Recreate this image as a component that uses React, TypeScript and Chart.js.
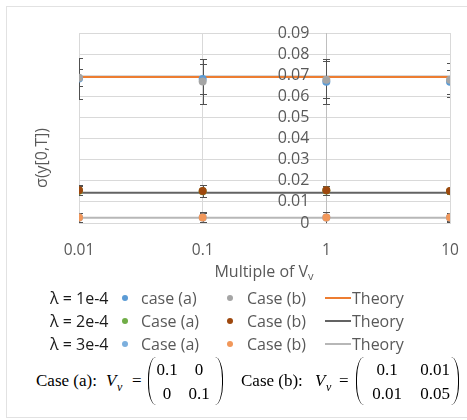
import React, { useEffect, useRef } from 'react';
import { Chart, registerables } from 'chart.js';

Chart.register(...registerables);

const FONT = '"Open Sans", sans-serif';
const SERIF = '"Liberation Serif", "Times New Roman", serif';
const TEXT_GREY = '#595959';

// ---- data ----
const xValues = [0.01, 0.1, 1, 10];
const xTickLabels = ['0.01', '0.1', '1', '10'];
const yTickValues = [0, 0.01, 0.02, 0.03, 0.04, 0.05, 0.06, 0.07, 0.08, 0.09];
const yTickLabels = ['0', '0.01', '0.02', '0.03', '0.04', '0.05', '0.06', '0.07', '0.08', '0.09'];

const lam1CaseA = [0.0685, 0.0682, 0.0669, 0.0669];
const lam1CaseAErr = [0.0098, 0.0072, 0.0107, 0.0058];
const lam1CaseB = [0.0688, 0.0670, 0.0678, 0.0678];
const lam1CaseBErr = [0.0040, 0.0105, 0.0088, 0.0082];
const lam1Theory = 0.0692;

const lam2CaseA = [0.0153, 0.0150, 0.0154, 0.0150];
const lam2CaseAErr = [0.0022, 0.0028, 0.0020, 0.0014];
const lam2CaseB = [0.0155, 0.0151, 0.0155, 0.0151];
const lam2CaseBErr = [0.0024, 0.0030, 0.0020, 0.0015];
const lam2Theory = 0.0143;

const lam3CaseA = [0.0026, 0.0026, 0.0026, 0.0026];
const lam3CaseAErr = [0.0020, 0.0022, 0.0025, 0.0018];
const lam3CaseB = [0.0026, 0.0026, 0.0026, 0.0026];
const lam3CaseBErr = [0.0022, 0.0024, 0.0027, 0.0020];
const lam3Theory = 0.0025;

const lambdaLabels = ['λ = 1e-4', 'λ = 2e-4', 'λ = 3e-4'];
const caseALabels = ['case (a)', 'Case (a)', 'Case (a)'];
const caseBLabels = ['Case (b)', 'Case (b)', 'Case (b)'];
const theoryLabel = 'Theory';

const caseAColors = ['#5B9BD5', '#70AD47', '#7CAFDD'];
const caseBColors = ['#A5A5A5', '#9E480E', '#F1975A'];
const theoryColors = ['#ED7D31', '#636363', '#B7B7B7'];

const yTitle = 'σ(y[0,T])';
const xTitleMain = 'Multiple of V';
const xTitleSub = 'v';

const pts = (ys: number[]) => xValues.map((x, i) => ({ x, y: ys[i] }));
const flat = (v: number) => [{ x: xValues[0], y: v }, { x: xValues[xValues.length - 1], y: v }];

const errorBarPlugin = {
  id: 'errorBars',
  beforeDatasetsDraw(chart: any) {
    const { ctx, chartArea } = chart;
    const yScale = chart.scales.y;
    ctx.save();
    ctx.beginPath();
    ctx.rect(chartArea.left, chartArea.top, chartArea.right - chartArea.left, chartArea.bottom - chartArea.top);
    ctx.clip();
    ctx.strokeStyle = '#505050';
    ctx.lineWidth = 1;
    chart.data.datasets.forEach((ds: any, i: number) => {
      if (!ds.errors) return;
      const meta = chart.getDatasetMeta(i);
      meta.data.forEach((el: any, j: number) => {
        const v = ds.data[j].y;
        const e = ds.errors[j];
        const x = Math.round(el.x) + 0.5;
        const yt = Math.round(yScale.getPixelForValue(v + e)) + 0.5;
        const yb = Math.round(yScale.getPixelForValue(v - e)) + 0.5;
        ctx.beginPath();
        ctx.moveTo(x, yt); ctx.lineTo(x, yb);
        ctx.moveTo(x - 3.5, yt); ctx.lineTo(x + 3.5, yt);
        ctx.moveTo(x - 3.5, yb); ctx.lineTo(x + 3.5, yb);
        ctx.stroke();
      });
    });
    ctx.restore();
  },
};

// y tick labels sit left of the crossing axis (at x = 1), drawn from the y scale
const yLabelPlugin = {
  id: 'yLabels',
  afterDraw(chart: any) {
    const { ctx } = chart;
    const yScale = chart.scales.y;
    const axisX = chart.scales.x.getPixelForValue(1);
    ctx.save();
    ctx.fillStyle = TEXT_GREY;
    ctx.font = `16px ${FONT}`;
    ctx.textAlign = 'right';
    ctx.textBaseline = 'middle';
    yTickValues.forEach((v, i) => {
      ctx.fillText(yTickLabels[i], axisX - 17, yScale.getPixelForValue(v));
    });
    ctx.restore();
  },
};

const titlePlugin = {
  id: 'titles',
  afterDraw(chart: any) {
    const { ctx } = chart;
    ctx.save();
    ctx.fillStyle = TEXT_GREY;
    ctx.textBaseline = 'middle';
    ctx.font = `16px ${FONT}`;
    ctx.save();
    ctx.translate(42, 158);
    ctx.rotate(-Math.PI / 2);
    ctx.textAlign = 'center';
    ctx.fillText(yTitle, 0, 0);
    ctx.restore();
    ctx.textAlign = 'left';
    const w1 = ctx.measureText(xTitleMain).width;
    ctx.font = `11px ${FONT}`;
    const w2 = ctx.measureText(xTitleSub).width;
    const start = 264 - (w1 + w2) / 2;
    ctx.font = `16px ${FONT}`;
    ctx.fillText(xTitleMain, start, 272);
    ctx.font = `11px ${FONT}`;
    ctx.fillText(xTitleSub, start + w1, 277);
    ctx.restore();
  },
};

function ChartCanvas() {
  const ref = useRef<HTMLCanvasElement>(null);
  useEffect(() => {
    if (!ref.current) return;
    const pointDs = (label: string, ys: number[], errs: number[], color: string, order: number) => ({
      type: 'scatter',
      label,
      data: pts(ys),
      errors: errs,
      backgroundColor: color,
      borderColor: color,
      pointRadius: 4,
      pointBorderWidth: 0,
      showLine: false,
      order,
    });
    const lineDs = (label: string, v: number, color: string) => ({
      type: 'line',
      label,
      data: flat(v),
      borderColor: color,
      backgroundColor: color,
      borderWidth: 2,
      pointRadius: 0,
      showLine: true,
      fill: false,
      order: 20,
    });
    const chart = new Chart(ref.current, {
      type: 'scatter',
      data: {
        datasets: [
          pointDs(caseBLabels[0], lam1CaseB, lam1CaseBErr, caseBColors[0], 1),
          pointDs(caseALabels[0], lam1CaseA, lam1CaseAErr, caseAColors[0], 2),
          pointDs(caseBLabels[1], lam2CaseB, lam2CaseBErr, caseBColors[1], 1),
          pointDs(caseALabels[1], lam2CaseA, lam2CaseAErr, caseAColors[1], 2),
          pointDs(caseBLabels[2], lam3CaseB, lam3CaseBErr, caseBColors[2], 1),
          pointDs(caseALabels[2], lam3CaseA, lam3CaseAErr, caseAColors[2], 2),
          lineDs(theoryLabel, lam1Theory, theoryColors[0]),
          lineDs(theoryLabel, lam2Theory, theoryColors[1]),
          lineDs(theoryLabel, lam3Theory, theoryColors[2]),
        ] as any,
      },
      options: {
        responsive: false,
        animation: false,
        layout: { padding: { left: 79, right: 17, top: 33, bottom: 0 } },
        plugins: { legend: { display: false }, tooltip: { enabled: false } },
        scales: {
          x: {
            type: 'logarithmic',
            min: 0.01,
            max: 10,
            afterBuildTicks: (axis: any) => {
              axis.ticks = xValues.map((v) => ({ value: v }));
            },
            afterFit: (axis: any) => {
              axis.height = 67;
            },
            grid: { color: '#d9d9d9', drawTicks: true, tickLength: 18, tickColor: 'rgba(0,0,0,0)' },
            border: { display: true, color: '#d9d9d9' },
            ticks: {
              padding: 0,
              color: TEXT_GREY,
              font: { family: FONT, size: 15.5 },
              maxRotation: 0,
              autoSkip: false,
              callback: (_v: any, i: number) => xTickLabels[i],
            },
          },
          y: {
            type: 'linear',
            min: 0,
            max: 0.09,
            position: { x: 1 } as any,
            afterBuildTicks: (axis: any) => {
              axis.ticks = yTickValues.map((v) => ({ value: v }));
            },
            grid: { color: '#d9d9d9', drawTicks: false },
            border: { display: true, color: '#bfbfbf' },
            ticks: { display: false },
          },
        },
      } as any,
      plugins: [errorBarPlugin, yLabelPlugin, titlePlugin],
    });
    return () => chart.destroy();
  }, []);
  return (
    <canvas
      ref={ref}
      width={467}
      height={290}
      style={{ position: 'absolute', left: 0, top: 0, width: 467, height: 290 }}
    />
  );
}

const abs = (left: number, cy: number, extra: React.CSSProperties = {}): React.CSSProperties => ({
  position: 'absolute',
  left,
  top: cy - 11,
  height: 22,
  lineHeight: '22px',
  whiteSpace: 'nowrap',
  ...extra,
});

function Legend() {
  const rows = [298, 321, 343.5];
  return (
    <>
      {rows.map((cy, i) => (
        <React.Fragment key={i}>
          <span style={abs(50, cy, { fontFamily: FONT, fontSize: 16, color: '#1a1a1a' })}>{lambdaLabels[i]}</span>
          <span style={{ position: 'absolute', left: 122, top: cy - 3, width: 6, height: 6, borderRadius: '50%', background: caseAColors[i] }} />
          <span style={abs(141, cy, { fontFamily: FONT, fontSize: 16, color: TEXT_GREY })}>{caseALabels[i]}</span>
          <span style={{ position: 'absolute', left: 227, top: cy - 3, width: 6, height: 6, borderRadius: '50%', background: caseBColors[i] }} />
          <span style={abs(247, cy, { fontFamily: FONT, fontSize: 16, color: TEXT_GREY })}>{caseBLabels[i]}</span>
          <span style={{ position: 'absolute', left: 325, top: cy - 1, width: 26, height: 2, background: theoryColors[i] }} />
          <span style={abs(352, cy, { fontFamily: FONT, fontSize: 16, color: TEXT_GREY })}>{theoryLabel}</span>
        </React.Fragment>
      ))}
    </>
  );
}

const mtext = (text: string, cx: number, cy: number, key: string) => (
  <span
    key={key}
    style={{
      position: 'absolute',
      left: cx,
      top: cy - 10,
      lineHeight: '20px',
      transform: 'translateX(-50%)',
      fontFamily: SERIF,
      fontSize: 17,
      color: '#000',
      whiteSpace: 'nowrap',
    }}
  >
    {text}
  </span>
);

const paren = (left: number, side: 'l' | 'r', key: string) => (
  <span
    key={key}
    style={{
      position: 'absolute',
      left,
      top: 357,
      width: 8,
      height: 48,
      boxSizing: 'border-box',
      borderLeft: side === 'l' ? '1.3px solid #000' : 'none',
      borderRight: side === 'r' ? '1.3px solid #000' : 'none',
      borderRadius: side === 'l' ? '9px 0 0 9px / 24px 0 0 24px' : '0 9px 9px 0 / 0 24px 24px 0',
    }}
  />
);

function MathBlock(props: {
  label: string;
  left: number;
  vLeft: number;
  eqLeft: number;
  pl: number;
  pr: number;
  cols: number[];
  cells: string[][];
}) {
  const { label, left, vLeft, eqLeft, pl, pr, cols, cells } = props;
  const cy = 381;
  const base: React.CSSProperties = {
    position: 'absolute',
    top: cy - 10,
    lineHeight: '20px',
    fontFamily: SERIF,
    fontSize: 17,
    color: '#000',
    whiteSpace: 'nowrap',
  };
  return (
    <>
      <span style={{ ...base, left }}>{label}</span>
      <span style={{ ...base, left: vLeft, fontStyle: 'italic' }}>V</span>
      <span style={{ ...base, left: vLeft + 11, top: cy - 4, fontSize: 12, fontStyle: 'italic' }}>v</span>
      <span style={{ ...base, left: eqLeft }}>=</span>
      {paren(pl, 'l', 'pl')}
      {paren(pr, 'r', 'pr')}
      {mtext(cells[0][0], cols[0], 370, 'a')}
      {mtext(cells[0][1], cols[1], 370, 'b')}
      {mtext(cells[1][0], cols[0], 394, 'c')}
      {mtext(cells[1][1], cols[1], 394, 'd')}
    </>
  );
}

const matrixA = [['0.1', '0'], ['0', '0.1']];
const matrixB = [['0.1', '0.01'], ['0.01', '0.05']];

export default function App() {
  return (
    <div style={{ position: 'absolute', left: 0, top: 0, width: 467, height: 420, overflow: 'hidden', background: '#fff' }}>
      <div
        style={{
          position: 'absolute',
          left: 6,
          top: 6,
          width: 470,
          height: 412,
          border: '1px solid #e2e2e2',
          boxSizing: 'border-box',
        }}
      />
      <ChartCanvas />
      <Legend />
      <MathBlock label="Case (a):" left={36} vLeft={106} eqLeft={132} pl={148} pr={215} cols={[167, 199]} cells={matrixA} />
      <MathBlock label="Case (b):" left={241} vLeft={315} eqLeft={339} pl={356} pr={451} cols={[387, 435]} cells={matrixB} />
    </div>
  );
}
